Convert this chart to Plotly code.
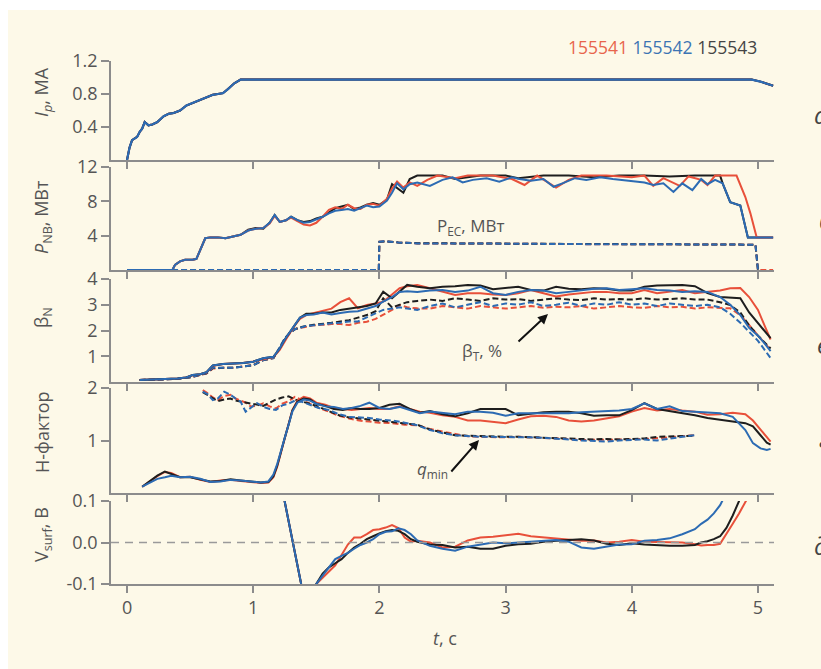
import plotly.graph_objects as go

# ---------------- data ----------------
shots = ["155541", "155542", "155543"]

# (a) plasma current, MA (three shots overlap)
ip_t = [0.0, 0.02, 0.04, 0.06, 0.08, 0.1, 0.12, 0.14, 0.17, 0.2,
        0.24, 0.29, 0.33, 0.37, 0.42, 0.47, 0.52, 0.58, 0.63, 0.68,
        0.72, 0.76, 0.8, 0.85, 0.9, 1.0, 1.3, 1.6, 1.9, 2.2,
        2.5, 2.8, 3.1, 3.4, 3.7, 4.0, 4.3, 4.6, 4.85, 4.95,
        5.02, 5.08, 5.12]
ip_ma = [0.0, 0.15, 0.24, 0.26, 0.28, 0.34, 0.38, 0.46, 0.42, 0.43,
         0.46, 0.53, 0.56, 0.57, 0.6, 0.66, 0.69, 0.73, 0.76, 0.79,
         0.8, 0.81, 0.86, 0.93, 0.975, 0.975, 0.978, 0.982, 0.98, 0.979,
         0.983, 0.98, 0.978, 0.981, 0.98, 0.979, 0.982, 0.98, 0.978, 0.975,
         0.95, 0.92, 0.9]

# (b) NBI power, MW
pnb_t_542 = [0.0, 0.36, 0.38, 0.42, 0.46, 0.52, 0.55, 0.58, 0.62, 0.66,
             0.72, 0.78, 0.84, 0.9, 0.96, 1.02, 1.08, 1.13, 1.17, 1.21,
             1.26, 1.3, 1.35, 1.4, 1.45, 1.5, 1.55, 1.6, 1.65, 1.7,
             1.75, 1.8, 1.85, 1.9, 1.95, 2.0, 2.06, 2.1, 2.14, 2.19,
             2.24, 2.3, 2.4, 2.5, 2.58, 2.66, 2.74, 2.85, 2.95, 3.05,
             3.11, 3.2, 3.3, 3.38, 3.45, 3.55, 3.64, 3.75, 3.85, 3.91,
             4.0, 4.1, 4.17, 4.25, 4.33, 4.4, 4.48, 4.55, 4.6, 4.66,
             4.72, 4.78, 4.86, 4.92, 5.0, 5.12]
pnb_542 = [0, 0, 0.6, 1.0, 1.2, 1.2, 1.3, 2.3, 3.7, 3.8,
           3.8, 3.7, 3.9, 4.1, 4.6, 4.8, 4.9, 5.5, 6.4, 5.6,
           5.8, 6.2, 5.8, 5.5, 5.6, 5.9, 6.2, 6.6, 6.9, 7.0,
           7.1, 6.9, 7.2, 7.5, 7.3, 7.4, 8.1, 9.0, 10.1, 9.4,
           10.0, 10.2, 9.8, 10.5, 10.8, 10.2, 10.5, 10.7, 10.3, 10.8,
           10.6, 10.4, 10.6, 9.7, 10.1, 10.7, 10.5, 10.8, 10.6, 10.5,
           10.4, 10.2, 9.9, 10.1, 9.1, 10.1, 9.3, 10.6, 10.0, 10.5,
           10.1, 7.9, 7.5, 3.8, 3.8, 3.8]
pnb_t_541 = [0.0, 0.36, 0.38, 0.42, 0.46, 0.52, 0.55, 0.58, 0.62, 0.66,
             0.72, 0.78, 0.84, 0.9, 0.96, 1.02, 1.08, 1.13, 1.17, 1.21,
             1.26, 1.3, 1.35, 1.4, 1.45, 1.5, 1.55, 1.6, 1.65, 1.7,
             1.75, 1.8, 1.85, 1.9, 1.95, 2.0, 2.06, 2.1, 2.14, 2.19,
             2.24, 2.3, 2.38, 2.46, 2.6, 2.7, 2.9, 3.05, 3.15, 3.25,
             3.4, 3.5, 3.6, 3.8, 4.0, 4.1, 4.17, 4.25, 4.38, 4.45,
             4.55, 4.6, 4.66, 4.83, 4.9, 4.94, 4.99, 5.12]
pnb_541 = [0, 0, 0.6, 1.0, 1.2, 1.2, 1.3, 2.3, 3.7, 3.8,
           3.8, 3.7, 3.9, 4.1, 4.6, 4.8, 4.9, 5.4, 6.3, 5.6,
           5.8, 6.1, 5.7, 5.3, 5.2, 5.5, 6.2, 7.0, 7.3, 7.1,
           7.6, 7.2, 7.1, 7.6, 7.7, 7.5, 8.3, 9.5, 10.3, 9.6,
           10.2, 9.8, 10.5, 11.0, 10.7, 11.0, 11.0, 10.6, 9.9, 11.0,
           9.6, 10.5, 11.0, 11.0, 10.8, 11.0, 9.8, 10.7, 9.8, 10.9,
           10.5, 9.9, 11.0, 11.0, 8.5, 6.6, 3.8, 3.8]
pnb_t_543 = [0.0, 0.36, 0.38, 0.42, 0.46, 0.52, 0.55, 0.58, 0.62, 0.66,
             0.72, 0.78, 0.84, 0.9, 0.96, 1.02, 1.08, 1.13, 1.17, 1.21,
             1.26, 1.3, 1.35, 1.4, 1.45, 1.5, 1.55, 1.6, 1.65, 1.7,
             1.75, 1.8, 1.85, 1.9, 1.95, 2.0, 2.06, 2.1, 2.14, 2.19,
             2.24, 2.3, 2.5, 2.6, 2.8, 3.0, 3.1, 3.3, 3.5, 3.7,
             3.9, 4.1, 4.3, 4.5, 4.7, 4.72, 4.78, 4.86, 4.92, 5.0, 5.12]
pnb_543 = [0, 0, 0.6, 1.0, 1.2, 1.2, 1.3, 2.3, 3.7, 3.8,
           3.8, 3.7, 3.9, 4.1, 4.7, 4.9, 4.8, 5.5, 6.4, 5.6,
           5.8, 6.2, 5.8, 5.6, 5.7, 6.0, 6.2, 6.7, 7.2, 7.4,
           7.6, 7.1, 7.3, 7.6, 7.8, 7.6, 8.2, 10.0, 9.6, 9.0,
           10.6, 11.0, 11.0, 10.6, 11.0, 11.0, 10.7, 11.0, 11.0, 10.8,
           11.0, 11.0, 10.9, 11.0, 11.0, 10.1, 7.9, 7.5, 3.8, 3.8, 3.8]

# (b) ECH power, MW (dashed)
pec_t_541 = [0, 1.995, 2.0, 2.05, 2.15, 2.3, 2.6, 3.0, 3.4, 3.8, 4.2, 4.6, 4.98, 5.0, 5.12]
pec_541 = [0, 0, 3.3, 3.35, 3.2, 3.1, 3.1, 3.05, 3.05, 3.0, 3.0, 2.95, 2.95, 0, 0]
pec_t_542 = [0, 1.995, 2.0, 2.05, 2.15, 2.3, 2.6, 3.0, 3.4, 3.8, 4.2, 4.6, 4.98, 5.0]
pec_542 = [0, 0, 3.3, 3.35, 3.2, 3.1, 3.1, 3.05, 3.05, 3.0, 3.0, 2.95, 2.95, 0]
pec_t_543 = [0, 1.995, 2.0, 2.05, 2.15, 2.3, 2.6, 3.0, 3.4, 3.8, 4.2, 4.6, 4.98, 5.0]
pec_543 = [0, 0, 3.28, 3.33, 3.2, 3.12, 3.1, 3.06, 3.04, 3.02, 3.0, 2.97, 2.95, 0]

# (c) beta_N (solid) and beta_T, % (dashed)
bn_t = [0.1, 0.2, 0.3, 0.4, 0.47, 0.52, 0.58, 0.63, 0.68, 0.76,
        0.84, 0.92, 1.0, 1.08, 1.16, 1.21, 1.25, 1.29, 1.33, 1.37,
        1.42, 1.48, 1.55, 1.62, 1.69, 1.76, 1.83, 1.9, 1.97, 2.03,
        2.1, 2.16, 2.22, 2.3, 2.4, 2.5, 2.6, 2.7, 2.8, 2.9,
        3.0, 3.1, 3.2, 3.3, 3.4, 3.5, 3.6, 3.7, 3.8, 3.9,
        4.0, 4.1, 4.2, 4.3, 4.4, 4.5, 4.6, 4.7, 4.78, 4.86,
        4.93, 5.0, 5.06, 5.1]
bn_542 = [0.08, 0.1, 0.1, 0.14, 0.18, 0.27, 0.3, 0.38, 0.64, 0.7,
          0.72, 0.74, 0.79, 0.92, 0.98, 1.3, 1.65, 1.95, 2.25, 2.5,
          2.6, 2.62, 2.7, 2.62, 2.68, 2.73, 2.75, 2.86, 2.95, 3.12,
          3.3, 3.5, 3.52, 3.5, 3.55, 3.57, 3.5, 3.55, 3.7, 3.45,
          3.38, 3.5, 3.57, 3.55, 3.45, 3.5, 3.57, 3.62, 3.64, 3.57,
          3.6, 3.64, 3.57, 3.55, 3.5, 3.52, 3.5, 3.3, 3.0, 2.6,
          2.1, 1.8, 1.45, 1.2]
bn_541 = [0.08, 0.1, 0.1, 0.14, 0.18, 0.26, 0.3, 0.37, 0.62, 0.7,
          0.72, 0.74, 0.8, 0.9, 0.97, 1.25, 1.6, 1.9, 2.2, 2.45,
          2.6, 2.67, 2.75, 2.85, 3.1, 3.25, 2.86, 2.99, 3.05, 3.12,
          3.4, 3.64, 3.72, 3.77, 3.64, 3.5, 3.38, 3.45, 3.45, 3.4,
          3.38, 3.45, 3.57, 3.45, 3.32, 3.4, 3.45, 3.5, 3.5, 3.45,
          3.45, 3.57, 3.45, 3.5, 3.57, 3.45, 3.5, 3.55, 3.64, 3.65,
          3.3, 2.8, 2.1, 1.65]
bn_543 = [0.08, 0.1, 0.1, 0.14, 0.18, 0.27, 0.3, 0.38, 0.64, 0.7,
          0.72, 0.74, 0.79, 0.92, 0.98, 1.3, 1.65, 1.95, 2.25, 2.5,
          2.65, 2.65, 2.7, 2.7, 2.8, 2.85, 2.9, 2.95, 3.05, 3.51,
          3.25, 3.5, 3.77, 3.7, 3.64, 3.7, 3.72, 3.77, 3.75, 3.6,
          3.64, 3.7, 3.57, 3.55, 3.7, 3.62, 3.6, 3.64, 3.62, 3.55,
          3.55, 3.7, 3.75, 3.77, 3.77, 3.72, 3.45, 3.3, 3.27, 3.25,
          2.7, 2.3, 1.95, 1.7]
bt_542 = [0.08, 0.08, 0.1, 0.12, 0.15, 0.2, 0.28, 0.35, 0.55, 0.55,
          0.55, 0.6, 0.65, 0.85, 0.93, 1.35, 1.7, 1.9, 2.05, 2.1,
          2.18, 2.2, 2.25, 2.28, 2.3, 2.35, 2.35, 2.5, 2.65, 2.8,
          2.85, 2.9, 2.85, 2.8, 2.95, 3.05, 2.9, 3.0, 3.1, 2.95,
          3.05, 3.0, 3.1, 2.95, 3.0, 3.08, 2.95, 3.05, 3.0, 3.1,
          3.0, 3.05, 2.95, 3.05, 3.0, 2.95, 3.0, 2.9, 2.65, 2.3,
          1.95, 1.6, 1.2, 0.93]
bt_541 = [0.08, 0.08, 0.1, 0.12, 0.15, 0.2, 0.27, 0.33, 0.52, 0.55,
          0.55, 0.6, 0.66, 0.85, 0.93, 1.3, 1.65, 1.9, 2.05, 2.1,
          2.15, 2.2, 2.22, 2.25, 2.25, 2.21, 2.3, 2.34, 2.45, 2.6,
          2.8, 2.99, 2.9, 2.86, 2.85, 2.95, 2.9, 2.85, 2.95, 2.9,
          2.85, 2.9, 2.95, 2.88, 2.92, 2.9, 2.95, 2.85, 2.9, 2.95,
          2.9, 2.88, 2.95, 2.9, 2.92, 2.85, 2.9, 2.88, 2.86, 2.6,
          2.2, 1.8, 1.45, 1.25]
bt_543 = [0.08, 0.08, 0.1, 0.12, 0.15, 0.2, 0.28, 0.34, 0.54, 0.55,
          0.56, 0.6, 0.65, 0.85, 0.93, 1.32, 1.68, 1.9, 2.05, 2.12,
          2.18, 2.22, 2.25, 2.3, 2.35, 2.4, 2.5, 2.6, 2.75, 3.25,
          2.9, 3.0, 3.1, 3.15, 3.2, 3.15, 3.25, 3.2, 3.15, 3.25,
          3.2, 3.22, 3.15, 3.2, 3.25, 3.2, 3.18, 3.25, 3.2, 3.22,
          3.2, 3.25, 3.2, 3.22, 3.25, 3.2, 3.2, 3.1, 2.99, 2.7,
          2.2, 1.8, 1.5, 1.3]

# (d) H-factor (solid) and q_min (dashed)
hf_t = [0.12, 0.18, 0.24, 0.3, 0.35, 0.42, 0.5, 0.58, 0.66, 0.74,
        0.82, 0.9, 1.0, 1.06, 1.12, 1.16, 1.19, 1.22, 1.25, 1.28,
        1.31, 1.35, 1.4, 1.45, 1.5, 1.57, 1.64, 1.71, 1.78, 1.85,
        1.92, 2.0, 2.08, 2.16, 2.24, 2.32, 2.4, 2.5, 2.6, 2.7,
        2.8, 2.9, 3.0, 3.1, 3.2, 3.3, 3.4, 3.5, 3.6, 3.7,
        3.8, 3.9, 4.0, 4.1, 4.2, 4.3, 4.4, 4.5, 4.6, 4.7,
        4.8, 4.9, 4.96, 5.02, 5.07, 5.1]
hf_542 = [0.12, 0.2, 0.27, 0.3, 0.33, 0.3, 0.31, 0.27, 0.21, 0.22,
          0.25, 0.24, 0.21, 0.2, 0.22, 0.35, 0.55, 0.8, 1.05, 1.3,
          1.55, 1.72, 1.78, 1.76, 1.7, 1.65, 1.64, 1.6, 1.62, 1.66,
          1.72, 1.62, 1.6, 1.64, 1.58, 1.52, 1.55, 1.52, 1.5, 1.55,
          1.55, 1.53, 1.47, 1.52, 1.52, 1.52, 1.52, 1.52, 1.54, 1.55,
          1.55, 1.57, 1.6, 1.71, 1.6, 1.65, 1.56, 1.55, 1.54, 1.52,
          1.45, 1.2, 0.95, 0.85, 0.82, 0.84]
hf_541 = [0.12, 0.22, 0.32, 0.4, 0.38, 0.3, 0.31, 0.25, 0.21, 0.24,
          0.25, 0.23, 0.2, 0.19, 0.2, 0.3, 0.5, 0.78, 1.05, 1.32,
          1.58, 1.76, 1.83, 1.8, 1.72, 1.68, 1.62, 1.6, 1.58, 1.6,
          1.62, 1.6, 1.6, 1.65, 1.6, 1.55, 1.53, 1.48, 1.45, 1.38,
          1.38, 1.36, 1.33, 1.4, 1.46, 1.47, 1.45, 1.38, 1.36, 1.38,
          1.42, 1.46, 1.55, 1.62, 1.57, 1.6, 1.57, 1.55, 1.49, 1.5,
          1.53, 1.5, 1.38, 1.2, 1.05, 0.98]
hf_543 = [0.12, 0.22, 0.33, 0.41, 0.37, 0.3, 0.3, 0.26, 0.22, 0.23,
          0.26, 0.24, 0.21, 0.2, 0.21, 0.32, 0.52, 0.8, 1.05, 1.3,
          1.57, 1.74, 1.8, 1.78, 1.7, 1.66, 1.6, 1.58, 1.62, 1.6,
          1.6, 1.62, 1.68, 1.7, 1.6, 1.53, 1.56, 1.5, 1.46, 1.52,
          1.6, 1.6, 1.6, 1.48, 1.51, 1.54, 1.55, 1.55, 1.52, 1.47,
          1.48, 1.48, 1.58, 1.71, 1.6, 1.56, 1.53, 1.48, 1.43, 1.39,
          1.36, 1.33, 1.27, 1.1, 0.96, 0.92]
qm_t = [0.6, 0.64, 0.68, 0.72, 0.77, 0.82, 0.86, 0.9, 0.94, 0.98,
        1.03, 1.08, 1.13, 1.18, 1.23, 1.28, 1.33, 1.38, 1.45, 1.52,
        1.6, 1.68, 1.76, 1.84, 1.92, 2.0, 2.1, 2.2, 2.3, 2.4,
        2.5, 2.6, 2.7, 2.8, 2.9, 3.0, 3.1, 3.2, 3.3, 3.4,
        3.5, 3.6, 3.7, 3.8, 3.9, 4.0, 4.1, 4.2, 4.3, 4.4, 4.5]
qm_541 = [1.96, 1.9, 1.82, 1.77, 1.85, 1.87, 1.8, 1.76, 1.72, 1.65,
          1.66, 1.71, 1.65, 1.61, 1.7, 1.75, 1.83, 1.78, 1.7, 1.62,
          1.55, 1.47, 1.42, 1.38, 1.36, 1.34, 1.33, 1.3, 1.29, 1.22,
          1.17, 1.12, 1.08, 1.07, 1.06, 1.06, 1.07, 1.06, 1.05, 1.05,
          1.03, 1.01, 1.01, 1.01, 1.02, 1.02, 1.03, 1.04, 1.06, 1.08, 1.1]
qm_542 = [1.93, 1.88, 1.77, 1.8, 1.93, 1.87, 1.8, 1.74, 1.55, 1.62,
          1.71, 1.64, 1.6, 1.58, 1.67, 1.7, 1.76, 1.74, 1.68, 1.62,
          1.58, 1.5, 1.45, 1.44, 1.43, 1.4, 1.38, 1.34, 1.29, 1.2,
          1.14, 1.1, 1.08, 1.07, 1.07, 1.07, 1.06, 1.06, 1.05, 1.04,
          1.02, 1.0, 0.99, 0.98, 1.0, 1.01, 1.02, 1.0, 1.04, 1.07, 1.1]
qm_543 = [1.92, 1.86, 1.8, 1.75, 1.78, 1.8, 1.76, 1.74, 1.72, 1.7,
          1.68, 1.66, 1.72, 1.78, 1.82, 1.84, 1.78, 1.75, 1.7, 1.64,
          1.56, 1.48, 1.44, 1.42, 1.4, 1.37, 1.35, 1.32, 1.3, 1.21,
          1.15, 1.1, 1.09, 1.08, 1.07, 1.07, 1.07, 1.06, 1.06, 1.05,
          1.04, 1.03, 1.02, 1.03, 1.02, 1.03, 1.04, 1.07, 1.08, 1.08, 1.09]

# (e) surface loop voltage, V
vs_t = [1.15, 1.2, 1.25, 1.3, 1.35, 1.38, 1.44, 1.5,
        1.55, 1.6, 1.65, 1.7, 1.75, 1.8, 1.85, 1.9, 1.95, 2.0, 2.05, 2.1, 2.15, 2.2, 2.25, 2.3,
        2.4, 2.5, 2.6, 2.7, 2.8, 2.9, 3.0, 3.1, 3.2, 3.3, 3.4, 3.5, 3.6, 3.7, 3.8, 3.9, 4.0,
        4.1, 4.2, 4.3, 4.4, 4.5,
        4.55, 4.6, 4.65, 4.7, 4.75, 4.8, 4.85, 4.9, 4.95]
vs_542 = [0.25, 0.175, 0.1, 0.025, -0.055, -0.1, -0.16, -0.1,
          -0.08, -0.06, -0.04, -0.032, -0.025, -0.015, -0.006, 0.0, 0.008, 0.02, 0.026, 0.027, 0.034, 0.03, 0.02, 0.005,
          -0.008, -0.015, -0.02, -0.01, -0.005, 0.0, -0.002, 0.0, 0.002, 0.004, 0.006, 0.002, -0.012, -0.015, -0.01, -0.005, -0.004,
          0.004, 0.006, 0.01, 0.02, 0.032,
          0.045, 0.055, 0.07, 0.09, 0.12, 0.15, 0.18, 0.21, 0.25]
vs_541 = [0.25, 0.175, 0.1, 0.025, -0.055, -0.1, -0.16, -0.1,
          -0.085, -0.07, -0.055, -0.03, -0.005, 0.012, 0.012, 0.02, 0.03, 0.032, 0.036, 0.042, 0.035, 0.012, 0.002, 0.004,
          0.0, -0.012, -0.01, 0.005, 0.012, 0.014, 0.018, 0.021, 0.015, 0.012, 0.01, 0.006, 0.004, 0.005, 0.0, 0.002, 0.006,
          0.002, 0.001, 0.0, 0.0, -0.004,
          -0.007, -0.006, -0.006, -0.003, 0.02, 0.045, 0.07, 0.095, 0.125]
vs_543 = [0.25, 0.175, 0.1, 0.025, -0.055, -0.1, -0.16, -0.1,
          -0.075, -0.06, -0.05, -0.04, -0.025, -0.012, -0.003, 0.008, 0.015, 0.022, 0.027, 0.03, 0.028, 0.02, 0.008, 0.002,
          -0.005, -0.006, -0.012, -0.01, -0.015, -0.015, -0.008, -0.004, -0.003, 0.002, 0.004, 0.006, 0.008, 0.005, -0.003, -0.006, -0.002,
          -0.005, -0.007, -0.008, -0.008, -0.006,
          0.0, 0.003, 0.008, 0.015, 0.035, 0.065, 0.1, 0.13, 0.16]

x_ticks = [0, 1, 2, 3, 4, 5]
panel_letters = ["а", "б", "в", "г", "д"]

for a, b in [(ip_t, ip_ma), (pnb_t_542, pnb_542), (pnb_t_541, pnb_541), (pnb_t_543, pnb_543),
             (pec_t_541, pec_541), (pec_t_542, pec_542), (pec_t_543, pec_543),
             (bn_t, bn_542), (bn_t, bn_541), (bn_t, bn_543), (bn_t, bt_542), (bn_t, bt_541), (bn_t, bt_543),
             (hf_t, hf_542), (hf_t, hf_541), (hf_t, hf_543), (qm_t, qm_541), (qm_t, qm_542), (qm_t, qm_543),
             (vs_t, vs_542), (vs_t, vs_541), (vs_t, vs_543)]:
    assert len(a) == len(b), (len(a), len(b))

# ---------------- style ----------------
RED = "#e8503a"
BLUE = "#2c6bb3"
BLACK = "#1e1e1e"
AXIS = "#8c8c8c"
TXT = "#555555"
CREAM = "#fdf9e8"
FONT = "Open Sans"
DASH = "6px,3px"

fig = go.Figure()


def add(x, y, n, color, dash="solid", width=2.0):
    s = "" if n == 1 else str(n)
    fig.add_trace(go.Scatter(x=x, y=y, xaxis="x" + s, yaxis="y" + s, mode="lines",
                             line=dict(color=color, width=width, dash=dash),
                             showlegend=False, hoverinfo="skip"))


# panel a
add(ip_t, ip_ma, 1, RED)
add(ip_t, ip_ma, 1, BLACK)
add(ip_t, ip_ma, 1, BLUE, width=2.2)
# panel b
add(pec_t_541, pec_541, 2, RED, DASH)
add(pec_t_543, pec_543, 2, BLACK, DASH)
add(pec_t_542, pec_542, 2, BLUE, DASH)
add(pnb_t_543, pnb_543, 2, BLACK)
add(pnb_t_541, pnb_541, 2, RED)
add(pnb_t_542, pnb_542, 2, BLUE)
# panel c
add(bn_t, bt_541, 3, RED, DASH)
add(bn_t, bt_543, 3, BLACK, DASH)
add(bn_t, bt_542, 3, BLUE, DASH)
add(bn_t, bn_541, 3, RED)
add(bn_t, bn_543, 3, BLACK)
add(bn_t, bn_542, 3, BLUE)
# panel d
add(qm_t, qm_541, 4, RED, DASH)
add(qm_t, qm_543, 4, BLACK, DASH)
add(qm_t, qm_542, 4, BLUE, DASH)
add(hf_t, hf_541, 4, RED)
add(hf_t, hf_543, 4, BLACK)
add(hf_t, hf_542, 4, BLUE)
# panel e
add(vs_t, vs_541, 5, RED)
add(vs_t, vs_543, 5, BLACK)
add(vs_t, vs_542, 5, BLUE)

# ---------------- layout ----------------
L, R, T, B = 111, 47, 61, 85
W, H = 821, 669
PW, PH = W - L - R, H - T - B


def px(xp):
    return (xp - L) / PW


def py(yp):
    return (H - B - yp) / PH


domains = [(160, 61), (270, 167), (382, 279), (493, 388), (584, 501)]
yranges = [[0, 1.2], [0, 12], [0, 4], [0, 2], [-0.1, 0.1]]
yticks = [[0.4, 0.8, 1.2], [4, 8, 12], [1, 2, 3, 4], [1, 2], [-0.1, 0.0, 0.1]]
yticktext = [["0.4", "0.8", "1.2"], ["4", "8", "12"], ["1", "2", "3", "4"], ["1", "2"], ["-0.1", "0.0", "0.1"]]

layout = dict(
    width=W, height=H,
    margin=dict(l=L, r=R, t=T, b=B),
    paper_bgcolor="white",
    plot_bgcolor="rgba(0,0,0,0)",
    font=dict(family=FONT, color=TXT, size=17),
    showlegend=False,
)
for i in range(5):
    n = i + 1
    s = "" if n == 1 else str(n)
    layout["xaxis" + s] = dict(
        domain=[0, 1], anchor="y" + s, range=[-0.127, 5.127],
        showline=True, linecolor=AXIS, linewidth=1.5,
        ticks="outside", ticklen=7, tickwidth=1.5, tickcolor=AXIS,
        tickvals=x_ticks, ticktext=[str(v) for v in x_ticks],
        showticklabels=(n == 5), tickfont=dict(size=18, color=TXT, family=FONT),
        showgrid=False, zeroline=False, fixedrange=True,
    )
    d0, d1 = domains[i]
    layout["yaxis" + s] = dict(
        domain=[py(d0), py(d1)], anchor="x" + s, range=yranges[i],
        showline=True, linecolor=AXIS, linewidth=1.5,
        ticks="outside", ticklen=8, tickwidth=1.5, tickcolor=AXIS,
        tickvals=yticks[i], ticktext=yticktext[i],
        tickfont=dict(size=18, color=TXT, family=FONT),
        showgrid=False, zeroline=False, fixedrange=True,
    )
fig.update_layout(**layout)

# background cream panel
fig.add_shape(type="rect", xref="paper", yref="paper", x0=px(8), x1=px(830), y0=py(680), y1=py(10),
              fillcolor=CREAM, line=dict(width=0), layer="below")
# zero line in panel e
fig.add_shape(type="line", xref="x5 domain", yref="y5", x0=0, x1=1, y0=0, y1=0,
              line=dict(color="#9a9a9a", width=1.3, dash="8px,6px"))

ann = []
# y-axis titles
ytitles = [("<i>I</i><sub><i>p</i></sub>, МА", 92),
           ("<i>P</i><sub>NB</sub>, МВт", 217),
           ("β<sub>N</sub>", 318),
           ("H-фактор", 432),
           ("V<sub>surf</sub>, В", 535)]
for txt, yc in ytitles:
    ann.append(dict(text=txt, xref="paper", yref="paper", x=px(42), y=py(yc),
                    xanchor="center", yanchor="middle", textangle=-90, showarrow=False,
                    font=dict(size=18, color=TXT, family=FONT)))
# x-axis title
ann.append(dict(text="<i>t</i>, с", xref="paper", yref="paper", x=px(445), y=py(638),
                xanchor="center", yanchor="middle", showarrow=False,
                font=dict(size=18, color=TXT, family=FONT)))
# shot labels
ann.append(dict(text=f'<span style="color:#e8654c">{shots[0]}</span> '
                     f'<span style="color:#3c74b3">{shots[1]}</span> '
                     f'<span style="color:#444444">{shots[2]}</span>',
                xref="paper", yref="paper", x=px(759), y=py(47), xanchor="right", yanchor="middle",
                showarrow=False, font=dict(size=17.5, family=FONT)))
# P_EC label
ann.append(dict(text="P<sub>EC</sub>, МВт", xref="paper", yref="paper", x=px(470), y=py(227),
                xanchor="center", yanchor="middle", showarrow=False,
                font=dict(size=17, color=TXT, family=FONT)))
# beta_T label + arrow
ann.append(dict(text="β<sub>T</sub>, %", xref="paper", yref="paper", x=px(482), y=py(351),
                xanchor="center", yanchor="middle", showarrow=False,
                font=dict(size=17, color=TXT, family=FONT)))
ann.append(dict(text="", xref="paper", yref="paper", x=px(548), y=py(314), ax=-31, ay=29,
                showarrow=True, arrowhead=2, arrowsize=1, arrowwidth=2, arrowcolor="#111111"))
# q_min label + arrow
ann.append(dict(text="<i>q</i><sub>min</sub>", xref="paper", yref="paper", x=px(432), y=py(469),
                xanchor="center", yanchor="middle", showarrow=False,
                font=dict(size=17, color=TXT, family=FONT)))
ann.append(dict(text="", xref="paper", yref="paper", x=px(479), y=py(440), ax=-29, ay=33,
                showarrow=True, arrowhead=2, arrowsize=1, arrowwidth=2, arrowcolor="#111111"))
# panel letters (cut at right edge, as in the reference)
letter_pos = [(812, 114), (817, 221), (815, 344), (817, 438), (812, 545)]
for letter, (lx, ly) in zip(panel_letters, letter_pos):
    ann.append(dict(text=f"<i>{letter}</i>", xref="paper", yref="paper", x=px(lx), y=py(ly),
                    xanchor="left", yanchor="middle", showarrow=False,
                    font=dict(size=24, color="#444444", family=FONT)))
fig.update_layout(annotations=ann)

fig.write_html("out.html")
